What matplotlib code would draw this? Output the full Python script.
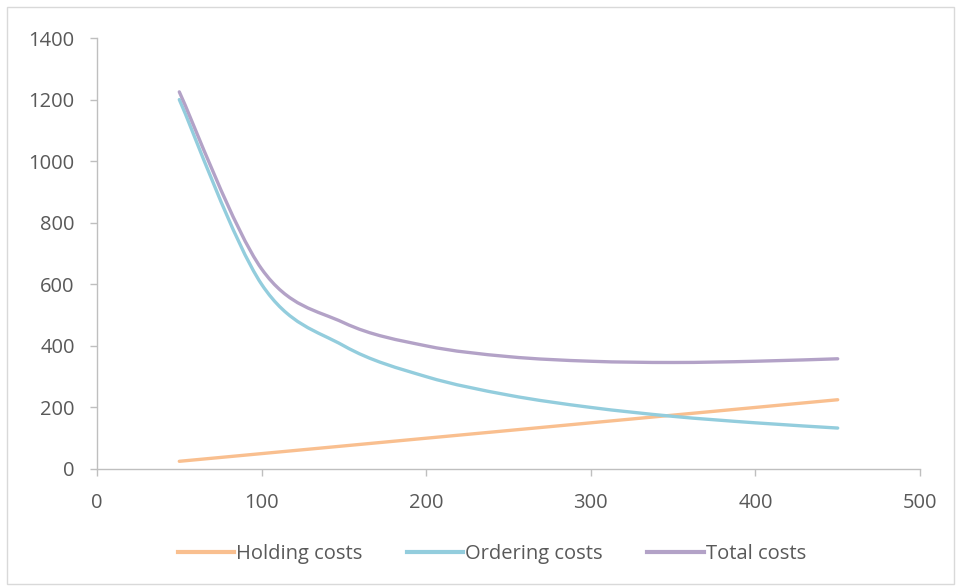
import matplotlib
matplotlib.use('Agg')
import matplotlib.pyplot as plt
import numpy as np
from matplotlib.path import Path
from matplotlib.patches import PathPatch, Rectangle
from matplotlib.lines import Line2D

# ── Data ────────────────────────────────────────────────────────────────────
order_qty = [50, 100, 150, 200, 250, 300, 350, 400, 450]
holding_costs = [25, 50, 75, 100, 125, 150, 175, 200, 225]
ordering_costs = [1200, 600, 400, 300, 240, 200, 171, 150, 133]
total_costs = [1225, 650, 475, 400, 365, 350, 346, 350, 358]

series_names = ['Holding costs', 'Ordering costs', 'Total costs']
series_colors = ['#F9BF8F', '#93CDDD', '#B3A2C7']

TEXT = '#595959'
AXIS = '#BFBFBF'


def smooth_path(xs, ys):
    """Excel-like smoothed line: cubic Bezier segments through every point."""
    p = np.column_stack([xs, ys]).astype(float)
    n = len(p)
    verts = [p[0]]
    codes = [Path.MOVETO]
    for i in range(n - 1):
        p0 = p[i - 1] if i > 0 else p[i]
        p3 = p[i + 2] if i + 2 < n else p[i + 1]
        c1 = p[i] + (p[i + 1] - p0) / 6
        c2 = p[i + 1] - (p3 - p[i]) / 6
        verts += [c1, c2, p[i + 1]]
        codes += [Path.CURVE4] * 3
    return Path(verts, codes)


plt.rcParams['font.family'] = ['Open Sans', 'DejaVu Sans']

fig = plt.figure(figsize=(9.59, 5.87), dpi=100)
fig.patches.append(Rectangle((7 / 959, 3 / 587), 947 / 959, 577 / 587,
                             transform=fig.transFigure, fill=False,
                             edgecolor='#D9D9D9', linewidth=1))

ax = fig.add_axes([97 / 959, 1 - 469 / 587, 823 / 959, 431 / 587])

handles = []
for ys, name, color in zip([holding_costs, ordering_costs, total_costs],
                           series_names, series_colors):
    patch = PathPatch(smooth_path(order_qty, ys), facecolor='none',
                      edgecolor=color, linewidth=2.4, capstyle='round',
                      joinstyle='round')
    ax.add_patch(patch)
    handles.append(Line2D([], [], color=color, linewidth=3, label=name))

ax.set_xlim(0, 500)
ax.set_ylim(0, 1400)
ax.set_xticks(range(0, 501, 100))
ax.set_yticks(range(0, 1401, 200))

for side in ('top', 'right'):
    ax.spines[side].set_visible(False)
for side in ('left', 'bottom'):
    ax.spines[side].set_color(AXIS)
    ax.spines[side].set_linewidth(1)

ax.tick_params(axis='both', direction='out', length=5, width=1, color=AXIS,
               labelcolor=TEXT, labelsize=14.5)
ax.tick_params(axis='x', pad=12)
ax.tick_params(axis='y', pad=11)

fig.legend(handles=handles, loc='center', bbox_to_anchor=(0.513, 1 - 554 / 587),
           ncol=3, frameon=False, fontsize=14.5, labelcolor=TEXT,
           handlelength=2.8, handletextpad=0.1, columnspacing=2.2)

fig.savefig('out.png', dpi=100)
plt.close(fig)
